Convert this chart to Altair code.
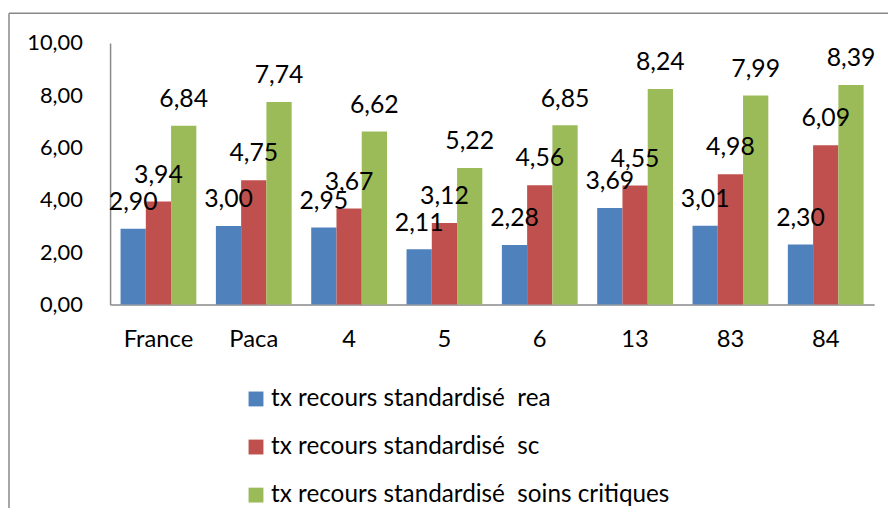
import altair as alt
import pandas as pd

categories = ["France", "Paca", "4", "5", "6", "13", "83", "84"]
series = ["tx recours standardisé\u00a0 rea",
          "tx recours standardisé\u00a0 sc",
          "tx recours standardisé\u00a0 soins critiques"]
rea = [2.90, 3.00, 2.95, 2.11, 2.28, 3.69, 3.01, 2.30]
sc = [3.94, 4.75, 3.67, 3.12, 4.56, 4.55, 4.98, 6.09]
soins = [6.84, 7.74, 6.62, 5.22, 6.85, 8.24, 7.99, 8.39]
colors = ["#4F81BD", "#C0504D", "#9BBB59"]

rows = []
for s, vals in zip(series, [rea, sc, soins]):
    for c, v in zip(categories, vals):
        rows.append({"cat": c, "serie": s, "val": v,
                     "lab": f"{v:.2f}".replace(".", ",")})
df = pd.DataFrame(rows)

FONT = "Lato"

x = alt.X("cat:N", sort=categories, title=None,
          scale=alt.Scale(paddingInner=0.205, paddingOuter=0.11),
          axis=alt.Axis(labelAngle=0, labelFontSize=24, labelFont=FONT,
                        labelColor="black", ticks=False, tickSize=0,
                        labelPadding=23, domainColor="#888888",
                        domainWidth=1.5))
xo = alt.XOffset("serie:N", sort=series, scale=alt.Scale(paddingInner=0, paddingOuter=0))

base = alt.Chart(df)

bars = base.mark_bar().encode(
    x=x,
    xOffset=xo,
    y=alt.Y("val:Q", title=None,
            scale=alt.Scale(domain=[0, 10], nice=False),
            axis=alt.Axis(values=[0, 2, 4, 6, 8, 10], grid=False,
                          labelExpr="replace(format(datum.value, '.2f'), '.', ',')",
                          labelFontSize=22, labelFont=FONT, labelColor="black",
                          ticks=False, tickSize=0, labelPadding=28,
                          domainColor="#888888", domainWidth=1.5)),
    color=alt.Color("serie:N", sort=series,
                    scale=alt.Scale(domain=series, range=colors),
                    legend=alt.Legend(title=None, orient="none",
                                      legendX=135, legendY=347,
                                      direction="vertical",
                                      symbolType="square", symbolSize=225,
                                      symbolStrokeWidth=0,
                                      labelFontSize=24.5, labelFont=FONT,
                                      labelColor="black", labelOffset=3,
                                      rowPadding=23.5, labelLimit=600)),
)

labels = base.mark_text(baseline="alphabetic", dy=-19, fontSize=25,
                        font=FONT, color="black").encode(
    x=alt.X("cat:N", sort=categories),
    xOffset=alt.XOffset("serie:N", sort=series),
    y=alt.Y("val:Q"),
    text="lab:N",
)

one = alt.Chart(pd.DataFrame({"a": [0]}))
left_border = one.mark_rule(color="#888888", strokeWidth=1.5).encode(
    x=alt.value(-102), y=alt.value(-30), y2=alt.value(600))
top_border = one.mark_rule(color="#888888", strokeWidth=1.5).encode(
    x=alt.value(-102), x2=alt.value(900), y=alt.value(-30))

chart = alt.layer(bars, labels, left_border, top_border).properties(
    width=771, height=264,
    autosize=alt.AutoSizeParams(type="none"),
    padding={"left": 103, "top": 33, "right": 14, "bottom": 203},
).configure_view(stroke=None)

chart.save("out.html", embed_options={"renderer": "svg", "actions": False})
